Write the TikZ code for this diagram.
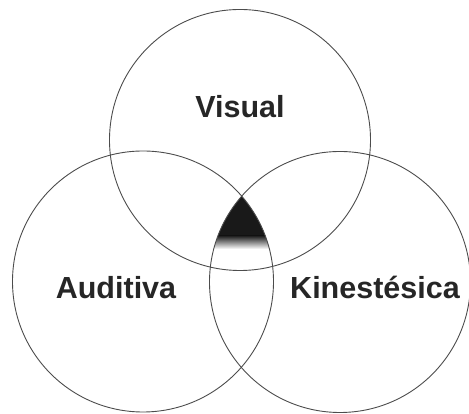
\documentclass[tikz,border=0pt]{standalone}
\usepackage{fontspec}
\setmainfont{Liberation Sans}
\begin{document}
\begin{tikzpicture}[x=1pt,y=1pt,
  ring/.style={draw=black!70,line width=0.9pt},
  lbl/.style={anchor=base,text=black!85,font=\fontsize{30.5}{36}\selectfont\bfseries,inner sep=0pt}]
\useasboundingbox (0,0) rectangle (469,414);
\coordinate (cv) at (240,274);
\coordinate (ca) at (143,132.5);
\coordinate (ck) at (340,132);
% shaded triple intersection
\begin{scope}
  \clip (cv) circle (130.5);
  \clip (ca) circle (130.5);
  \clip (ck) circle (130.5);
  \fill[black!90] (200,178) rectangle (290,230);
  \shade[top color=black!90,bottom color=white] (200,165) rectangle (290,178.5);
\end{scope}
\draw[ring] (cv) circle (130.5);
\draw[ring] (ca) circle (130.5);
\draw[ring] (ck) circle (130.5);
\node[lbl] (v) at (240,296) {Visual};
\node[lbl] (a) at (116,115) {Auditiva};
\node[lbl] (k) at (375,115) {Kinestésica};
\end{tikzpicture}
\end{document}
